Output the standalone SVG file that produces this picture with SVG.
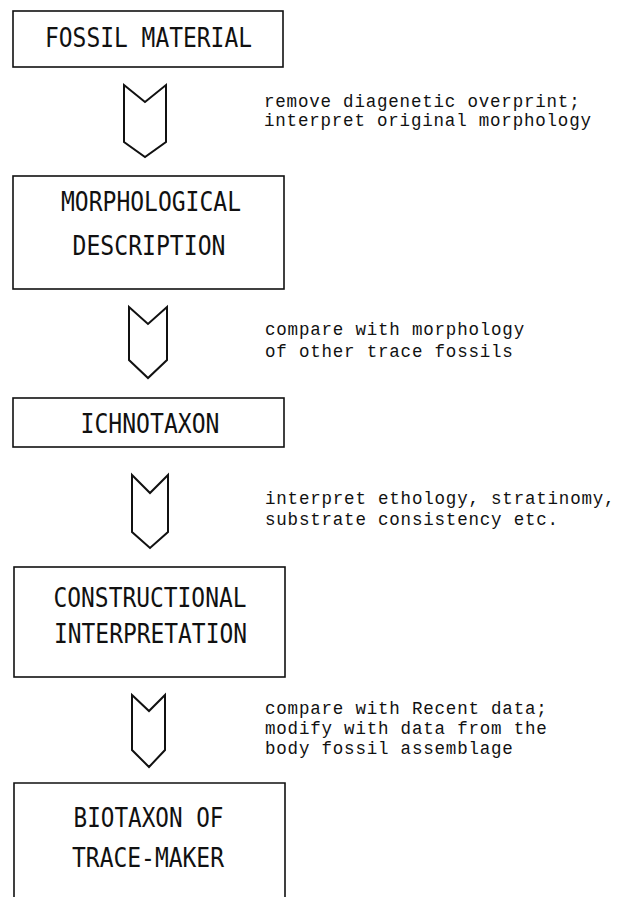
<svg xmlns="http://www.w3.org/2000/svg" width="621" height="897" viewBox="0 0 621 897">
<style>
.box{fill:none;stroke:#111;stroke-width:1.6}
.arr{fill:none;stroke:#111;stroke-width:2;stroke-linejoin:miter}
.bt{font-family:"DejaVu Sans Mono","Liberation Mono",monospace;font-size:26px;fill:#111;text-anchor:middle}
.an{font-family:"Liberation Mono","DejaVu Sans Mono",monospace;font-size:17.5px;letter-spacing:0.8px;fill:#111}
</style>
<rect width="621" height="897" fill="#fff"/>
<g id="n1">
<rect class="box" x="13" y="11" width="270" height="56"/>
<text class="bt" x="148.5" y="47" textLength="207" lengthAdjust="spacingAndGlyphs">FOSSIL MATERIAL</text>
</g>
<g id="n2">
<rect class="box" x="13" y="176" width="271" height="113"/>
<text class="bt" x="151" y="211" textLength="180" lengthAdjust="spacingAndGlyphs">MORPHOLOGICAL</text>
<text class="bt" x="149" y="255" textLength="153" lengthAdjust="spacingAndGlyphs">DESCRIPTION</text>
</g>
<g id="n3">
<rect class="box" x="13" y="398" width="271" height="49"/>
<text class="bt" x="150" y="433" textLength="139" lengthAdjust="spacingAndGlyphs">ICHNOTAXON</text>
</g>
<g id="n4">
<rect class="box" x="14" y="567" width="271" height="110"/>
<text class="bt" x="150" y="607" textLength="193" lengthAdjust="spacingAndGlyphs">CONSTRUCTIONAL</text>
<text class="bt" x="150.5" y="643" textLength="193" lengthAdjust="spacingAndGlyphs">INTERPRETATION</text>
</g>
<g id="n5">
<path class="box" d="M14 897 V783 H285 V897"/>
<text class="bt" x="148.5" y="827" textLength="150" lengthAdjust="spacingAndGlyphs">BIOTAXON OF</text>
<text class="bt" x="148" y="867" textLength="152" lengthAdjust="spacingAndGlyphs">TRACE-MAKER</text>
</g>
<g id="connectors">
<path class="arr" d="M124 85 L145 102 L166 85 V142 L145 157 L124 142 Z"/>
<path class="arr" d="M129 307 L148 324 L167 307 V360 L148 378 L129 360 Z"/>
<path class="arr" d="M132 475 L150 493 L168 475 V532 L150 548 L132 532 Z"/>
<path class="arr" d="M132 695 L149 711 L165 695 V750 L149 767 L132 750 Z"/>
<g id="labels">
<text class="an" x="264" y="107">remove diagenetic overprint;</text>
<text class="an" x="264" y="126">interpret original morphology</text>
<text class="an" x="265" y="335">compare with morphology</text>
<text class="an" x="265" y="357">of other trace fossils</text>
<text class="an" x="265" y="504">interpret ethology, stratinomy,</text>
<text class="an" x="265" y="525">substrate consistency etc.</text>
<text class="an" x="265" y="714">compare with Recent data;</text>
<text class="an" x="265" y="734">modify with data from the</text>
<text class="an" x="265" y="754">body fossil assemblage</text>
</g>
</g>
</svg>
